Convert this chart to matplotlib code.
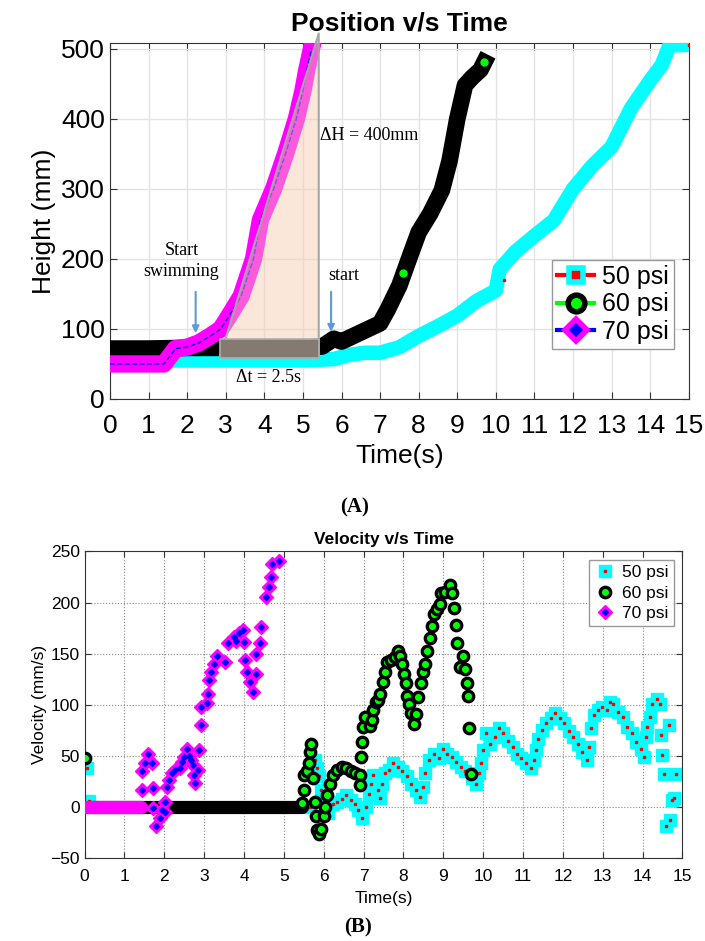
import matplotlib.pyplot as plt
from matplotlib.lines import Line2D
from matplotlib.patches import Polygon, Rectangle

# ---- (A) position data ----
t50_pos = [0, 1, 2, 3, 4, 5, 5.8, 6.2, 6.6, 7.0, 7.5, 8.0, 8.5, 9.0, 9.5, 10.0,
           10.1, 10.5, 11.0, 11.5, 12.0, 12.5, 13.0, 13.5, 14.0, 14.3, 14.5, 15.0]
h50 = [55, 55, 55, 55, 55, 55, 57, 63, 66, 66, 74, 90, 104, 119, 140, 155,
       185, 210, 233, 255, 300, 333, 360, 415, 455, 477, 505, 506]

t60_pos = [0, 1, 2, 3, 4, 5, 5.5, 5.8, 6.0, 6.5, 7.0, 7.2, 7.5, 7.8, 8.0, 8.3,
           8.6, 8.8, 9.0, 9.2, 9.4, 9.6, 9.7]
h60 = [72, 72, 73, 73, 73, 73, 75, 86, 82, 95, 108, 128, 162, 208, 238, 265,
       298, 340, 400, 448, 460, 470, 481]

t70_pos = [0, 0.5, 1.0, 1.4, 1.7, 2.0, 2.3, 2.6, 2.87, 3.1, 3.4, 3.6, 3.72,
           3.9, 4.24, 4.55, 4.83, 5.0, 5.1, 5.22]
h70 = [50, 50, 50, 50, 72, 74, 80, 90, 100, 120, 147, 180, 200,
       256, 300, 350, 400, 440, 470, 500]

# ---- (B) velocity data ----
t50_vel = [0.05, 0.1, 5.66, 5.77, 5.83, 5.89, 5.94, 6.00, 6.06, 6.11, 6.23, 6.34,
           6.45, 6.56, 6.68, 6.79, 6.87, 6.96, 7.07, 7.13, 7.18, 7.24, 7.35, 7.41,
           7.47, 7.53, 7.63, 7.75, 7.86, 7.97, 8.09, 8.20, 8.31, 8.42, 8.48, 8.54,
           8.65, 8.76, 8.88, 8.99, 9.10, 9.21, 9.33, 9.44, 9.55, 9.72, 9.83, 9.89,
           9.95, 10.00, 10.06, 10.17, 10.29, 10.40, 10.51, 10.62, 10.74, 10.85,
           10.96, 11.07, 11.19, 11.28, 11.32, 11.37, 11.47, 11.58, 11.69, 11.81,
           11.92, 12.03, 12.15, 12.26, 12.37, 12.48, 12.60, 12.65, 12.71, 12.77,
           12.88, 12.99, 13.10, 13.17, 13.27, 13.39, 13.50, 13.61, 13.73, 13.84,
           13.95, 14.03, 14.09, 14.12, 14.18, 14.23, 14.35, 14.44, 14.46, 14.49,
           14.54, 14.60, 14.66, 14.68, 14.74, 14.80, 14.85]
v50 = [38, 6, 0, 46, 38, 30, 17, 9, 0, -6, 3, 5,
       8, 12, 7, 3, -3, -11, 0, 13, 23, 31, 17, 9,
       23, 33, 36, 43, 39, 35, 30, 23, 17, 10, 20, 33,
       46, 52, 48, 57, 52, 49, 44, 39, 35, 28, 23, 33,
       43, 56, 72, 62, 69, 77, 72, 65, 59, 52,
       48, 43, 38, 46, 56, 67, 75, 82, 87, 92,
       87, 82, 74, 69, 62, 54, 46, 59, 77, 90,
       95, 98, 95, 103, 101, 93, 88, 78, 72, 64,
       57, 49, 69, 78, 88, 101, 106, 101, 70, 51,
       32, -19, 80, -13, 7, 9, 32]

t60_vel = [0.02, 5.46, 5.50, 5.50, 5.58, 5.64, 5.66, 5.68, 5.73, 5.77, 5.80, 5.84,
           5.89, 5.93, 6.00, 6.03, 6.09, 6.15, 6.23, 6.34, 6.45, 6.56, 6.68, 6.79,
           6.90, 6.90, 6.94, 6.97, 6.99, 7.04, 7.15, 7.20, 7.24, 7.30, 7.35, 7.41,
           7.48, 7.53, 7.58, 7.69, 7.80, 7.87, 7.92, 7.97, 8.01, 8.06, 8.10, 8.14,
           8.20, 8.26, 8.31, 8.37, 8.44, 8.48, 8.54, 8.59, 8.66, 8.71, 8.76, 8.84,
           8.91, 8.95, 9.04, 9.16, 9.21, 9.27, 9.31, 9.34, 9.41, 9.50, 9.55, 9.59,
           9.61, 9.64, 9.70]
v60 = [48, 4, 17, 31, 35, 43, 54, 62, 28, 5, -9, -22,
       -26, -21, -9, 0, 12, 23, 31, 36, 39, 38, 35, 33,
       31, 22, 49, 64, 78, 88, 79, 85, 95, 103, 105, 111,
       122, 132, 142, 144, 147, 153, 148, 140, 130, 121, 109, 101,
       92, 81, 91, 108, 121, 132, 140, 153, 165, 177, 189, 194,
       199, 209, 210, 217, 209, 195, 178, 160, 137, 148, 135, 121,
       109, 77, 32]

t70_vel = [1.43, 1.43, 1.51, 1.58, 1.69, 1.71, 1.71, 1.80, 1.88, 1.94, 2.01, 2.01,
           2.06, 2.12, 2.20, 2.28, 2.39, 2.45, 2.50, 2.56, 2.62, 2.67, 2.71, 2.75,
           2.77, 2.85, 2.86, 2.91, 2.92, 3.06, 3.10, 3.12, 3.18, 3.24, 3.33, 3.52,
           3.60, 3.74, 3.80, 3.88, 3.97, 4.00, 4.03, 4.08, 4.14, 4.23, 4.29, 4.31,
           4.39, 4.42, 4.56, 4.62, 4.68, 4.70, 4.87]
v70 = [17, 35, 43, 52, 43, 19, -1, -19, -11, -3, 5, -5,
       20, 26, 33, 36, 38, 44, 49, 57, 50, 46, 41, 31,
       24, 36, 56, 80, 98, 102, 111, 124, 132, 140, 148, 142,
       160, 166, 162, 170, 173, 161, 144, 132, 122, 113, 130, 150,
       160, 176, 205, 215, 225, 238, 241]

# resting stretches (velocity 0) drawn as dense marker bands
rest50 = [0.0, 0.25]
rest60 = [0.1, 5.45]
rest70 = [0.0, 1.42]

fig = plt.figure(figsize=(7.05, 9.41), dpi=100)
sans = ['Liberation Sans', 'DejaVu Sans']
serif = ['Liberation Serif', 'DejaVu Serif']

# ================= (A) =================
ax1 = fig.add_axes([0.156, 0.576, 0.821, 0.378])
ax1.plot(t50_pos, h50, color='#00ffff', lw=10.5, solid_joinstyle='round', zorder=3)
ax1.plot(t60_pos, h60, color='black', lw=12, solid_joinstyle='round', zorder=4)
ax1.plot(t70_pos, h70, color='#ff00ff', lw=12.5, solid_joinstyle='round', zorder=5)
ax1.plot(t70_pos, h70, color='blue', lw=1, ls='--', zorder=5.5)
ax1.plot([15], [506], 's', ms=2, color='red', zorder=6)
ax1.plot([10.2], [170], 's', ms=2, color='red', zorder=6)
ax1.plot([7.6, 9.7], [180, 481], 'o', ms=5, color='#00ff00', zorder=6)

# delta-t / delta-H annotation
tri = Polygon([(2.85, 60), (5.41, 60), (5.41, 522)], closed=True,
              facecolor='#f8cbad', alpha=0.45, edgecolor='none', zorder=7,
              clip_on=False)
ax1.add_patch(tri)
ax1.plot([2.85, 5.41, 5.41], [60, 522, 60], color='#a6a6a6', lw=1.5,
         zorder=8, clip_on=False)
ax1.add_patch(Rectangle((2.85, 58), 2.56, 27, facecolor='#857a71',
                        edgecolor='#b0b0b0', lw=1.2, zorder=8))

ax1.text(1.85, 197, 'Start\nswimming', family=serif, fontsize=13,
         ha='center', va='center', linespacing=1.3, zorder=9)
ax1.annotate('', xy=(2.22, 90), xytext=(2.22, 157),
             arrowprops=dict(arrowstyle='-|>', color='#5b9bd5', lw=1.5), zorder=9)
ax1.text(6.05, 176, 'start', family=serif, fontsize=13, ha='center',
         va='center', zorder=9)
ax1.annotate('', xy=(5.73, 92), xytext=(5.73, 157),
             arrowprops=dict(arrowstyle='-|>', color='#5b9bd5', lw=1.5), zorder=9)
ax1.text(5.43, 377, '\u0394H = 400mm', family=serif, fontsize=13,
         ha='left', va='center', zorder=9)
ax1.text(4.1, 30, '\u0394t = 2.5s', family=serif, fontsize=13,
         ha='center', va='center', zorder=9)

ax1.set_xlim(0, 15)
ax1.set_ylim(0, 508)
ax1.set_xticks(range(0, 16))
ax1.set_yticks(range(0, 501, 100))
ax1.grid(True, color='#e3e3e3', lw=1)
ax1.set_axisbelow(True)
ax1.tick_params(direction='in', top=True, right=True, labelsize=19,
                length=5, color='#333333')
ax1.tick_params(axis='x', pad=11)
for lab in ax1.get_xticklabels() + ax1.get_yticklabels():
    lab.set_family(sans)
for sp in ax1.spines.values():
    sp.set_color('#333333')
ax1.set_title('Position v/s Time', family=sans, fontsize=19,
              fontweight='bold', pad=9)
ax1.set_xlabel('Time(s)', family=sans, fontsize=19, labelpad=4)
ax1.set_ylabel('Height (mm)', family=sans, fontsize=19, labelpad=4)

h_a = [Line2D([], [], color='red', lw=3, marker='s', ms=10, mfc='red',
              mec='#00ffff', mew=4),
       Line2D([], [], color='#00ff00', lw=3, marker='o', ms=12, mfc='#00ff00',
              mec='black', mew=4),
       Line2D([], [], color='blue', lw=3, marker='D', ms=11, mfc='blue',
              mec='#ff00ff', mew=4)]
leg1 = ax1.legend(h_a, ['50 psi', '60 psi', '70 psi'], loc='lower right',
                  bbox_to_anchor=(0.974, 0.14), borderaxespad=0,
                  prop={'family': sans, 'size': 18},
                  handlelength=1.5, handletextpad=0.3, borderpad=0.2,
                  labelspacing=0.15, fancybox=False, edgecolor='#999999',
                  framealpha=1)
leg1.set_zorder(10)

fig.text(0.503, 0.461, '(A)', family=serif, fontsize=15, fontweight='bold',
         ha='center', va='center')

# ================= (B) =================
ax2 = fig.add_axes([0.12, 0.088, 0.848, 0.326])
ax2.plot(rest60, [0, 0], color='black', lw=9.5, solid_capstyle='round', zorder=3)
ax2.plot(rest70, [0, 0], color='#ff00ff', lw=9.5, solid_capstyle='round', zorder=4)
ax2.plot(rest50, [0, 0], color='#00ffff', lw=8, solid_capstyle='round', zorder=2)
ax2.plot(t50_vel, v50, 's', ms=8, color='#00ffff', zorder=2)
ax2.plot(t50_vel, v50, 's', ms=2, color='red', zorder=2.1)
ax2.plot(t60_vel, v60, 'o', ms=7.5, mfc='#00ff00', mec='black', mew=2.4, zorder=3)
ax2.plot(t70_vel, v70, 'D', ms=7.5, color='#ff00ff', zorder=4)
ax2.plot(t70_vel, v70, 'D', ms=3, color='blue', zorder=4.1)

ax2.set_xlim(0, 15)
ax2.set_ylim(-50, 250)
ax2.set_xticks(range(0, 16))
ax2.set_yticks(range(-50, 251, 50))
ax2.grid(True, color='#888888', lw=0.8, ls=':')
ax2.set_axisbelow(True)
ax2.tick_params(direction='in', top=True, right=True, labelsize=12.5,
                length=4, color='#333333')
ax2.tick_params(axis='x', pad=8)
for lab in ax2.get_xticklabels() + ax2.get_yticklabels():
    lab.set_family(sans)
for sp in ax2.spines.values():
    sp.set_color('#333333')
ax2.set_title('Velocity v/s Time', family=sans, fontsize=12.5,
              fontweight='bold', pad=5)
ax2.set_xlabel('Time(s)', family=sans, fontsize=12.5, labelpad=5)
ax2.set_ylabel('Velocity (mm/s)', family=sans, fontsize=12.5, labelpad=2)

h_b = [(Line2D([], [], ls='none', marker='s', ms=8, color='#00ffff'),
        Line2D([], [], ls='none', marker='s', ms=2, color='red')),
       Line2D([], [], ls='none', marker='o', ms=7.5, mfc='#00ff00', mec='black', mew=2.4),
       (Line2D([], [], ls='none', marker='D', ms=7.5, color='#ff00ff'),
        Line2D([], [], ls='none', marker='D', ms=3, color='blue'))]
ax2.legend(h_b, ['50 psi', '60 psi', '70 psi'], loc='upper right',
           prop={'family': sans, 'size': 12.5}, handlelength=1.2,
           handletextpad=0.4, borderpad=0.3, labelspacing=0.3,
           fancybox=False, edgecolor='#999999', framealpha=1)

fig.text(0.508, 0.014, '(B)', family=serif, fontsize=15, fontweight='bold',
         ha='center', va='center')

fig.savefig('out.png', dpi=100)
